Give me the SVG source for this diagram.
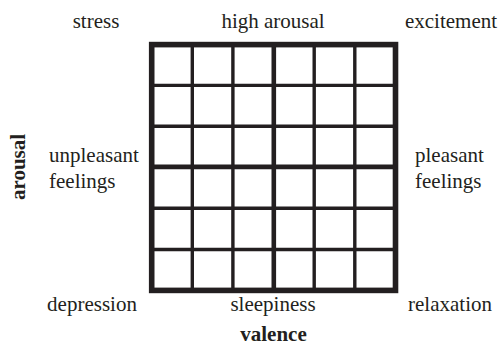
<svg xmlns="http://www.w3.org/2000/svg" width="501" height="347" viewBox="0 0 501 347">
<style>
.t{font-family:"Liberation Serif","Times New Roman",serif;font-size:21px;fill:#231f20}
.b{font-weight:bold}
.thin{stroke:#231f20;stroke-width:3.4;fill:none}
.mid{stroke:#231f20;stroke-width:4.6;fill:none}
.frame{stroke:#231f20;stroke-width:5.6;fill:#fff}
</style>
<rect width="501" height="347" fill="#fff"/>
<g id="grid">
<rect class="frame" x="151.7" y="44.6" width="243.8" height="245.8"/>
<path class="thin" d="M192.3 44.6V290.4M232.9 44.6V290.4M314.2 44.6V290.4M354.8 44.6V290.4M151.7 85.4H395.5M151.7 126.2H395.5M151.7 208.3H395.5M151.7 249.5H395.5"/>
<path class="mid" d="M273.8 44.6V290.4M151.7 166.9H395.5"/>
</g>
<g id="labels">
<text class="t" x="96" y="28" text-anchor="middle">stress</text>
<text class="t" x="273" y="28" text-anchor="middle">high arousal</text>
<text class="t" x="451" y="28" text-anchor="middle">excitement</text>
<text class="t" x="49" y="162">unpleasant</text>
<text class="t" x="49" y="188">feelings</text>
<text class="t" x="415" y="162">pleasant</text>
<text class="t" x="415" y="188">feelings</text>
<text class="t" x="92" y="311" text-anchor="middle">depression</text>
<text class="t" x="273" y="311" text-anchor="middle">sleepiness</text>
<text class="t" x="450" y="311" text-anchor="middle">relaxation</text>
<text class="t b" x="273.5" y="341" text-anchor="middle">valence</text>
<text class="t b" x="0" y="0" text-anchor="middle" transform="translate(24.5 167) rotate(-90)">arousal</text>
</g>
</svg>
